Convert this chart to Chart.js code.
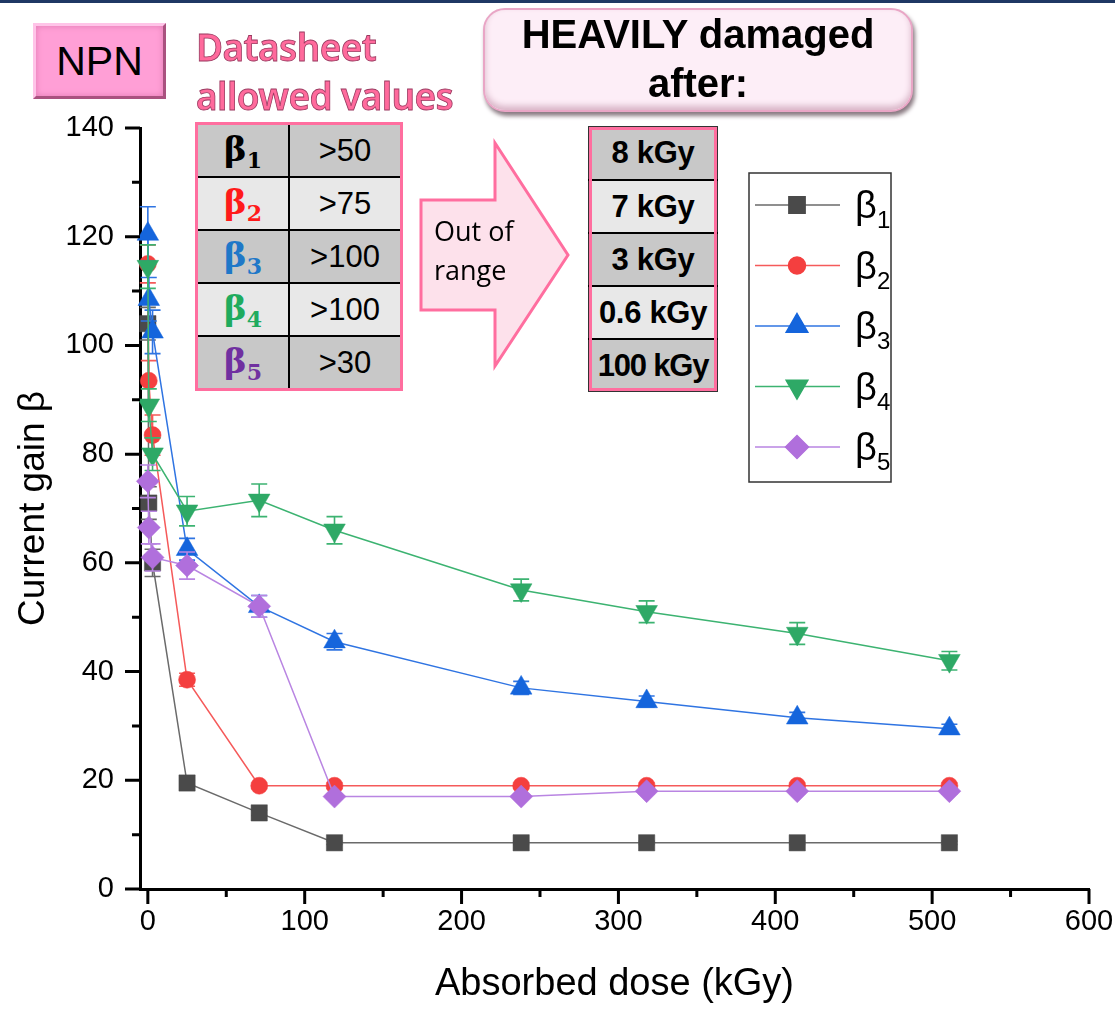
<!DOCTYPE html>
<html lang="en">
  <head>
    <meta charset="UTF-8" />
    <title>NPN current gain vs dose</title>
    <style>
      body { margin: 0; background: #fff; }
      .container {
        position: relative;
        width: 1115px;
        height: 1009px;
        overflow: hidden;
        font-family: "Liberation Sans", Arial, sans-serif;
      }
      .topline { position: absolute; left: 0; top: 0; width: 1115px; height: 3px; background: #1f3864; }
      .note { position: absolute; pointer-events: none; }
      #npn {
        left: 33px; top: 23px; width: 127px; height: 70px;
        background: #ff9fd6;
        border: 3px solid; border-color: #ffc4e8 #a9527f #a9527f #ffc4e8;
        box-shadow: inset 0 0 6px #e07ab2;
        font-size: 41px; line-height: 70px; text-align: center; color: #000;
      }
      #datasheet {
        left: 196px; top: 22px;
        font-family: "Noto Sans", sans-serif; font-weight: 600;
        font-size: 37px; line-height: 49px; color: #ff6a9c;
        -webkit-text-stroke: 0.8px #9a3a60; letter-spacing: -0.6px;
      }
      table { border-collapse: collapse; }
      #allowed {
        left: 195px; top: 122px;
        border: 3px solid #ff6e9f;
      }
      #allowed td {
        height: 51px; border-top: 2px solid #000; text-align: center; padding: 0;
      }
      #allowed tr:first-child td { border-top: none; }
      #allowed td.b {
        width: 90px; border-right: 2px solid #000;
        font-family: "DejaVu Serif", serif; font-weight: bold; font-size: 34px;
      }
      #allowed td.b sub { font-size: 22px; vertical-align: -7px; }
      #allowed td.v { width: 110px; font-size: 31px; }
      .g { background: #c8c8c8; }
      .l { background: #e8e8e8; }
      #arrow { left: 0; top: 0; }
      #outof {
        left: 434px; top: 211px;
        font-family: "Open Sans", sans-serif; font-size: 27px; line-height: 39px; color: #000;
      }
      #heavy {
        left: 483px; top: 8px; width: 426px; height: 100px;
        background: #fdeef7; border: 2px solid #e9a6c6; border-radius: 22px;
        box-shadow: 2px 4px 4px #8a7a82, inset 0 -4px 6px #d8b4c6;
        font-weight: bold; font-size: 40px; line-height: 49px; text-align: center; color: #000;
      }
      #kgy {
        left: 588px; top: 126px;
        border: 1px solid #333; outline: 3px solid #ff6e9f; outline-offset: -4px;
      }
      #kgy td {
        width: 128px; height: 51px; padding: 0; text-align: center;
        border-top: 2px solid #000;
        font-weight: bold; font-size: 31px; letter-spacing: -0.3px;
      }
      #kgy tr:first-child td { border-top: none; height: 52px; }
      #kgy td.w { letter-spacing: -1.2px; }
    </style>
    <script src="https://cdn.jsdelivr.net/npm/chart.js"></script>
  </head>
  <body>
    <div class="container">
      <canvas id="chart"></canvas>
      <div class="topline"></div>
      <div class="note" id="npn">NPN</div>
      <div class="note" id="datasheet">Datasheet<br />allowed values</div>
      <table class="note" id="allowed">
        <tr class="g"><td class="b" style="color:#000">β<sub>1</sub></td><td class="v">&gt;50</td></tr>
        <tr class="l"><td class="b" style="color:#ff1a1a">β<sub>2</sub></td><td class="v">&gt;75</td></tr>
        <tr class="g"><td class="b" style="color:#1f78c8">β<sub>3</sub></td><td class="v">&gt;100</td></tr>
        <tr class="l"><td class="b" style="color:#1fab5e">β<sub>4</sub></td><td class="v">&gt;100</td></tr>
        <tr class="g"><td class="b" style="color:#7030a0">β<sub>5</sub></td><td class="v">&gt;30</td></tr>
      </table>
      <svg class="note" id="arrow" width="1115" height="400">
        <polygon points="421,200 495,200 495,143 568,255 495,366 495,310 421,310"
          fill="#fde1eb" stroke="#ff6e9f" stroke-width="3" stroke-linejoin="miter" />
      </svg>
      <div class="note" id="outof">Out of<br />range</div>
      <div class="note" id="heavy">HEAVILY damaged<br />after:</div>
      <table class="note" id="kgy">
        <tr class="g"><td>8 kGy</td></tr>
        <tr class="l"><td>7 kGy</td></tr>
        <tr class="g"><td>3 kGy</td></tr>
        <tr class="l"><td>0.6 kGy</td></tr>
        <tr class="g"><td class="w">100 kGy</td></tr>
      </table>
    </div>
    <script>
      // absorbed dose (kGy)
      const dose = [0, 0.6, 3, 25, 71, 119, 238, 318, 414, 511];

      // current gain per transistor
      const beta1 = [104, 71, 60, 19.5, 14, 8.5, 8.5, 8.5, 8.5, 8.5];
      const beta2 = [115, 93.5, 83.5, 38.5, 19, 19, 19, 19, 19, 19];
      const beta3 = [120.5, 108.5, 102.5, 62.5, 52, 45.5, 37, 34.5, 31.5, 29.5];
      const beta4 = [114.5, 89, 80, 69.5, 71.5, 66, 55, 51, 47, 42];
      const beta5 = [75, 66.5, 61, 59.5, 52, 17, 17, 18, 18, 18];

      // error bars (+/-)
      const err1 = [3, 3, 2.5, 0.5, 0.5, 0.3, 0.3, 0.3, 0.3, 0.3];
      const err2 = [3.5, 3.7, 3.7, 1.2, 0.5, 0.5, 0.5, 0.5, 0.5, 0.5];
      const err3 = [5, 4, 4, 2, 2, 1.5, 1.2, 1, 1, 0.8];
      const err4 = [4, 3, 3, 2.7, 3, 2.5, 2, 2, 2, 1.7];
      const err5 = [3, 3, 2.5, 2.5, 2, 0.5, 0.5, 0.5, 0.5, 0.5];

      const xTicks = [0, 100, 200, 300, 400, 500, 600];
      const xMinor = [50, 150, 250, 350, 450, 550];
      const yTicks = [0, 20, 40, 60, 80, 100, 120, 140];
      const yMinor = [10, 30, 50, 70, 90, 110, 130];

      const series = [
        { sub: "1", vals: beta1, errs: err1, mark: "#4a4a4a", line: "#6a6a6a", style: "rect", r: 11.5, rot: 0 },
        { sub: "2", vals: beta2, errs: err2, mark: "#f43f3f", line: "#f55a5a", style: "circle", r: 8.5, rot: 0 },
        { sub: "3", vals: beta3, errs: err3, mark: "#1565dc", line: "#2f74e2", style: "triangle", r: 12.5, rot: 0 },
        { sub: "4", vals: beta4, errs: err4, mark: "#2ea966", line: "#3cb371", style: "triangle", r: 12.5, rot: 180 },
        { sub: "5", vals: beta5, errs: err5, mark: "#b06fdc", line: "#b985e2", style: "rectRot", r: 11.5, rot: 0 },
      ];

      Chart.defaults.font.family = '"Liberation Sans", Arial, sans-serif';
      Chart.defaults.color = "#000";

      const errorBarPlugin = {
        id: "errorBars",
        beforeDatasetDraw(chart, args) {
          const ds = chart.data.datasets[args.index];
          const y = chart.scales.y;
          const ctx = chart.ctx;
          ctx.save();
          ctx.strokeStyle = ds.borderColor;
          ctx.lineWidth = 1.6;
          args.meta.data.forEach((pt, i) => {
            const v = ds.data[i].y;
            const e = ds.errors[i];
            const top = y.getPixelForValue(v + e);
            const bot = y.getPixelForValue(v - e);
            ctx.beginPath();
            ctx.moveTo(pt.x, top);
            ctx.lineTo(pt.x, bot);
            ctx.moveTo(pt.x - 8, top);
            ctx.lineTo(pt.x + 8, top);
            ctx.moveTo(pt.x - 8, bot);
            ctx.lineTo(pt.x + 8, bot);
            ctx.stroke();
          });
          ctx.restore();
        },
      };

      const tickPlugin = {
        id: "outerTicks",
        afterDraw(chart) {
          const { ctx, scales: { x, y } } = chart;
          ctx.save();
          ctx.strokeStyle = "#000";
          ctx.lineWidth = 3;
          const ya = chart.chartArea.bottom;
          const xa = chart.chartArea.left;
          ctx.beginPath();
          xTicks.forEach((v) => { const p = x.getPixelForValue(v); ctx.moveTo(p, ya); ctx.lineTo(p, ya + 15); });
          xMinor.forEach((v) => { const p = x.getPixelForValue(v); ctx.moveTo(p, ya); ctx.lineTo(p, ya + 8); });
          yTicks.forEach((v) => { const p = y.getPixelForValue(v); ctx.moveTo(xa, p); ctx.lineTo(xa - 15, p); });
          yMinor.forEach((v) => { const p = y.getPixelForValue(v); ctx.moveTo(xa, p); ctx.lineTo(xa - 8, p); });
          ctx.stroke();
          ctx.restore();
        },
      };

      // legend box inside the plot
      const legendPlugin = {
        id: "boxLegend",
        afterDraw(chart) {
          const ctx = chart.ctx;
          const left = 749, top = 173, w = 142, h = 309;
          ctx.save();
          ctx.strokeStyle = "#333";
          ctx.lineWidth = 1.5;
          ctx.strokeRect(left, top, w, h);
          chart.data.datasets.forEach((ds, i) => {
            const cy = 205 + i * 60.5;
            ctx.strokeStyle = ds.borderColor;
            ctx.lineWidth = 1.5;
            ctx.beginPath();
            ctx.moveTo(755, cy);
            ctx.lineTo(840, cy);
            ctx.stroke();
            ctx.fillStyle = ds.pointBackgroundColor;
            ctx.strokeStyle = ds.pointBackgroundColor;
            Chart.helpers.drawPoint(ctx, {
              pointStyle: ds.pointStyle, radius: ds.pointRadius,
              rotation: ds.pointRotation, borderWidth: 0.5,
            }, 797, cy);
            ctx.fillStyle = "#000";
            ctx.textBaseline = "alphabetic";
            ctx.font = '38px "Liberation Sans", Arial, sans-serif';
            ctx.fillText("β", 855, cy + 13);
            ctx.font = '24px "Liberation Sans", Arial, sans-serif';
            ctx.fillText(series[i].sub, 877, cy + 23);
          });
          ctx.restore();
        },
      };

      const datasets = series.map((s, k) => ({
        label: "β" + s.sub,
        data: dose.map((d, i) => ({ x: d, y: s.vals[i] })),
        errors: s.errs,
        borderColor: s.line,
        borderWidth: 1.5,
        pointStyle: s.style,
        pointRadius: s.r,
        pointHoverRadius: s.r,
        pointRotation: s.rot,
        pointBackgroundColor: s.mark,
        pointBorderColor: s.mark,
        pointBorderWidth: 0.5,
        tension: 0,
        clip: false,
        order: 5 - k,
      }));

      new Chart(document.getElementById("chart"), {
        type: "line",
        data: { datasets },
        options: {
          responsive: true,
          maintainAspectRatio: false,
          animation: false,
          layout: { padding: { top: 128, right: 26, left: 0, bottom: 0 } },
          plugins: { legend: { display: false }, tooltip: { enabled: false } },
          scales: {
            x: {
              type: "linear",
              min: -5,
              max: 600,
              afterBuildTicks: (scale) => { scale.ticks = xTicks.map((v) => ({ value: v })); },
              afterFit: (scale) => { scale.height = 120; scale.paddingRight = 0; scale.paddingLeft = 0; },
              grid: { display: false, drawTicks: false },
              border: { display: true, color: "#000", width: 3 },
              ticks: { padding: 16, font: { size: 29 }, color: "#000", maxRotation: 0 },
              title: { display: true, text: "Absorbed dose (kGy)", font: { size: 38 }, padding: { top: 0, bottom: 2 } },
            },
            y: {
              min: 0,
              max: 140,
              afterBuildTicks: (scale) => { scale.ticks = yTicks.map((v) => ({ value: v })); },
              afterFit: (scale) => { scale.width = 140; },
              grid: { display: false, drawTicks: false },
              border: { display: true, color: "#000", width: 3 },
              ticks: { padding: 26, font: { size: 29 }, color: "#000" },
              title: { display: true, text: "Current gain β", font: { size: 37 }, padding: { top: 12, bottom: 0 } },
            },
          },
        },
        plugins: [errorBarPlugin, tickPlugin, legendPlugin],
      });
    </script>
  </body>
</html>
